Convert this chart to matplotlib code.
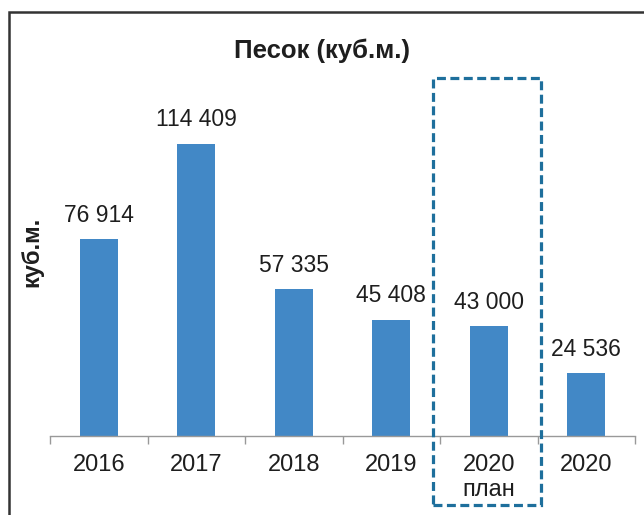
import matplotlib
matplotlib.use("Agg")
import matplotlib.pyplot as plt
from matplotlib.patches import Rectangle

categories = ["2016", "2017", "2018", "2019", "2020\nплан", "2020"]
values = [76914, 114409, 57335, 45408, 43000, 24536]
title = "Песок (куб.м.)"
ylabel = "куб.м."

plt.rcParams['font.family'] = ['Liberation Sans', 'DejaVu Sans']

fig = plt.figure(figsize=(6.44, 5.15), dpi=100)
ax = fig.add_axes([50/644, 79/515, 585/644, 0.645])

bar_color = "#4288c6"
x = list(range(len(categories)))
bars = ax.bar(x, values, width=0.39, color=bar_color)
ax.set_xlim(-0.5, len(categories) - 0.5)
ax.set_ylim(0, 130000)

for xi, v in zip(x, values):
    ax.annotate(f"{v:,}".replace(",", " "), (xi, v), xytext=(0, 9),
                textcoords="offset points", ha="center", va="bottom",
                fontsize=16.5, color="#1e1e1e")

for s in ["top", "right", "left"]:
    ax.spines[s].set_visible(False)
ax.spines["bottom"].set_color("#999999")
ax.spines["bottom"].set_linewidth(1.0)
ax.set_yticks([])
ax.set_xticks(x)
ax.set_xticklabels(categories, fontsize=17, color="#1e1e1e", linespacing=1.2)
ax.tick_params(axis="x", length=0, pad=13)
ax.set_xticks([i - 0.5 for i in range(len(categories) + 1)], minor=True)
ax.tick_params(axis="x", which="minor", length=6, color="#999999", width=1.0)

ax.set_ylabel(ylabel, fontsize=17, fontweight="bold", color="#1e1e1e")
ax.yaxis.set_label_coords(-0.012, 0.555)

fig.text(0.5, 0.902, title, ha="center", va="center", fontsize=18.5,
         fontweight="bold", color="#1e1e1e")

# dashed highlight box
fig.patches.append(Rectangle((433/644, 10/515), 108/644, 427/515,
                             transform=fig.transFigure, fill=False,
                             edgecolor="#1e6f9c", linewidth=2.3,
                             linestyle=(0, (2.8, 1.4))))
# outer frame
fig.patches.append(Rectangle((9/644, -0.05), 1.0, 503/515 + 0.05,
                             transform=fig.transFigure, fill=False,
                             edgecolor="#333333", linewidth=1.8))

fig.savefig("out.png", dpi=100)
